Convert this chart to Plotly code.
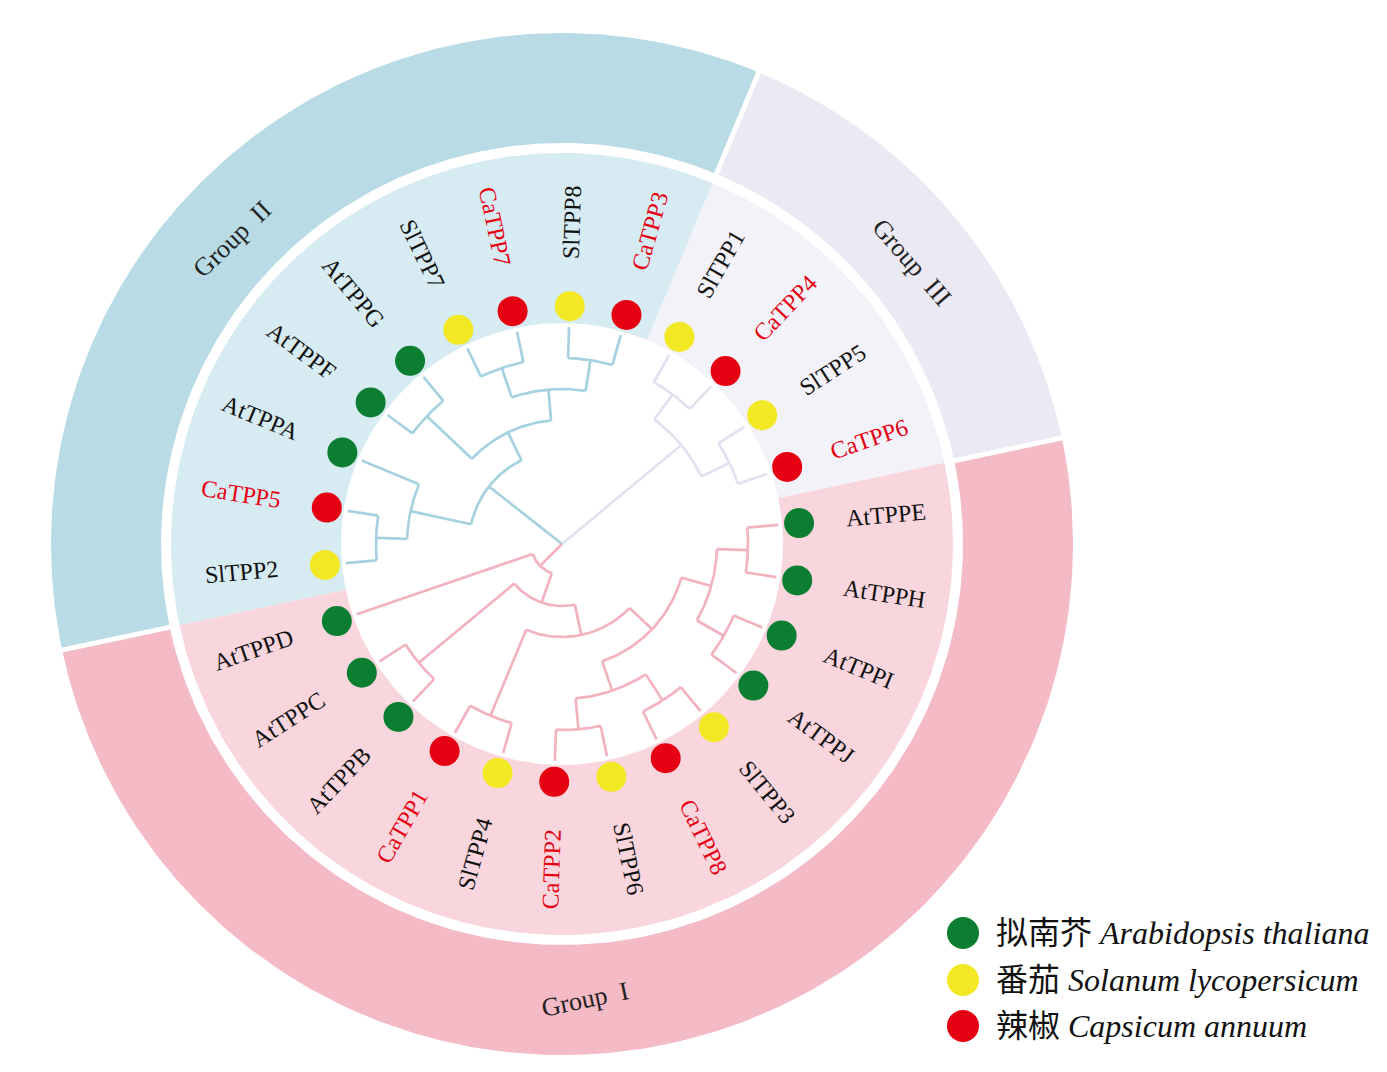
"""
Circular TPP gene tree (At / Sl / Ca) with group rings and species legend
"""
import numpy as np
import plotly.graph_objects as go

# ---- data ----------------------------------------------------------------
# topology, leaves in counter-clockwise order
TREE = ("(((CaTPP6,SlTPP5),(CaTPP4,SlTPP1)),"
        "((((CaTPP3,SlTPP8),(CaTPP7,SlTPP7)),(AtTPPG,AtTPPF)),(AtTPPA,(CaTPP5,SlTPP2))),"
        "(AtTPPD,((AtTPPC,AtTPPB),((CaTPP1,SlTPP4),"
        "(((CaTPP2,SlTPP6),(CaTPP8,SlTPP3)),((AtTPPJ,AtTPPI),(AtTPPH,AtTPPE)))))));")

GROUP_NAMES = ["Group III", "Group II", "Group I"]
GROUP_SIZES = [4, 9, 13]

SPECIES_PREFIX = ["At", "Sl", "Ca"]
SPECIES_CN = ["拟南芥", "番茄", "辣椒"]
SPECIES_LATIN = ["Arabidopsis thaliana", "Solanum lycopersicum", "Capsicum annuum"]

# ---- style ---------------------------------------------------------------
W, H = 1387, 1072
PAGE_PAD = 8                 # default body margin of the html page
CX, CY = 562, 544            # centre of the circle in screen pixels
FIRST_ANGLE = 18.9           # angle of first leaf (deg, ccw from east)
R_TIP = 217
R_DOT = 238
R_LAB = 285
R_BAND = (221, 391)
R_RING = (401, 511)

SPECIES_COL = ["#0b7e32", "#f2e823", "#e50012"]
BRANCH_COL = ["#e2e1f0", "#a6d2df", "#f2b3bf"]
BAND_COL = ["#f3f2f9", "#d7ebf2", "#f9d6dd"]
RING_COL = ["#ebe9f4", "#b8dbe6", "#f4bac6"]
GROUP_LABEL_POS = [(449, 38.8, 49), (449, 137.3, -44), (456, 272.9, -12)]

SERIF = "Liberation Serif, Times New Roman, serif"

# Times-like advance widths (em) for label width estimate
CW = {'A': .722, 't': .278, 'T': .611, 'P': .556, 'E': .611, 'F': .556, 'G': .722,
      'H': .722, 'I': .333, 'J': .389, 'B': .667, 'C': .667, 'D': .722, 'a': .444,
      'S': .556, 'l': .278}


def parse_newick(s):
    s = s.strip().rstrip(';')
    pos = 0

    def node():
        nonlocal pos
        if s[pos] == '(':
            pos += 1
            kids = [node()]
            while s[pos] == ',':
                pos += 1
                kids.append(node())
            pos += 1  # ')'
            return {'children': kids}
        start = pos
        while pos < len(s) and s[pos] not in ',()':
            pos += 1
        return {'name': s[start:pos], 'children': []}

    return node()


root = parse_newick(TREE)
leaves = []


def walk(n):
    if not n['children']:
        n['idx'] = len(leaves)
        leaves.append(n)
        n['height'] = 0
    else:
        for c in n['children']:
            walk(c)
        n['height'] = 1 + max(c['height'] for c in n['children'])
    return n


walk(root)
N = len(leaves)
STEP = 360.0 / N
MAX_H = root['height']

leaf_group = []
for g, k in enumerate(GROUP_SIZES):
    leaf_group += [g] * k


def layout(n):
    if not n['children']:
        n['ang'] = FIRST_ANGLE + n['idx'] * STEP
        n['grp'] = {leaf_group[n['idx']]}
    else:
        for c in n['children']:
            layout(c)
        n['ang'] = np.mean([c['ang'] for c in n['children']])
        n['grp'] = set().union(*[c['grp'] for c in n['children']])
    n['r'] = (MAX_H - n['height']) * R_TIP / MAX_H


layout(root)


def pol(r, deg):
    a = np.deg2rad(deg)
    return r * np.cos(a), r * np.sin(a)


# branch segments per group colour
seg = {g: ([], []) for g in range(len(GROUP_NAMES))}


def add_branches(n):
    if not n['children']:
        return
    for c in n['children']:
        g = min(c['grp']) if len(c['grp']) == 1 else 0
        xs, ys = seg[g]
        x0, y0 = pol(n['r'], c['ang'])
        x1, y1 = pol(c['r'], c['ang'])
        xs += [x0, x1, None]
        ys += [y0, y1, None]
        add_branches(c)
    if len(n['grp']) == 1 and n['r'] > 0:
        g = min(n['grp'])
        angs = [c['ang'] for c in n['children']]
        t = np.linspace(min(angs), max(angs), 60)
        ax, ay = pol(n['r'], t)
        seg[g][0].extend(list(ax) + [None])
        seg[g][1].extend(list(ay) + [None])


add_branches(root)

fig = go.Figure()


def annulus(r0, r1, a0, a1, color):
    t = np.linspace(a0, a1, 200)
    xo, yo = pol(r1, t)
    xi, yi = pol(r0, t[::-1])
    fig.add_trace(go.Scatter(x=np.r_[xo, xi, xo[0]], y=np.r_[yo, yi, yo[0]],
                             fill='toself', fillcolor=color, mode='lines',
                             line=dict(width=0), hoverinfo='skip', showlegend=False))


# group rings
start = 0
bounds = []
for g, k in enumerate(GROUP_SIZES):
    a0 = FIRST_ANGLE + (start - 0.5) * STEP
    a1 = FIRST_ANGLE + (start + k - 0.5) * STEP
    bounds.append(a0)
    annulus(R_BAND[0], R_BAND[1], a0, a1, BAND_COL[g])
    annulus(R_RING[0], R_RING[1], a0, a1, RING_COL[g])
    start += k

# white separators in the outer ring
for a in bounds:
    x0, y0 = pol(R_RING[0] - 4, a)
    x1, y1 = pol(R_RING[1] + 4, a)
    fig.add_trace(go.Scatter(x=[x0, x1], y=[y0, y1], mode='lines',
                             line=dict(color='white', width=5),
                             hoverinfo='skip', showlegend=False))

# branches
for g in seg:
    fig.add_trace(go.Scatter(x=seg[g][0], y=seg[g][1], mode='lines',
                             line=dict(color=BRANCH_COL[g], width=2.7),
                             hoverinfo='skip', showlegend=False))

# tip dots
names = [lf['name'] for lf in leaves]
sp = [SPECIES_PREFIX.index(nm[:2]) for nm in names]
dx, dy = pol(R_DOT, np.array([lf['ang'] for lf in leaves]))
fig.add_trace(go.Scatter(x=dx, y=dy, mode='markers',
                         marker=dict(size=30, color=[SPECIES_COL[s] for s in sp],
                                     line=dict(width=0)),
                         text=names, hoverinfo='text', showlegend=False))

# tip labels
annotations = []
for lf, s in zip(leaves, sp):
    a = lf['ang'] % 360
    rot = a - 180 if 90 < a < 270 else a
    w = sum(CW.get(ch, 0.5) for ch in lf['name']) * 24
    x, y = pol(R_LAB + w / 2, lf['ang'])
    annotations.append(dict(x=x, y=y, text=lf['name'], showarrow=False,
                            textangle=-rot, xanchor='center', yanchor='middle',
                            font=dict(family=SERIF, size=24,
                                      color='#e60012' if s == 2 else '#111111')))

# group labels
for (r, a, ta), gname in zip(GROUP_LABEL_POS, GROUP_NAMES):
    x, y = pol(r, a)
    annotations.append(dict(x=x, y=y, text=gname.replace(' ', '\u00a0\u00a0'),
                            showarrow=False, textangle=ta,
                            xanchor='center', yanchor='middle',
                            font=dict(family=SERIF, size=26, color='#222222')))

# legend (drawn by hand)
leg_x = 963 - CX
leg_y = [CY - 933, CY - 980, CY - 1026]
fig.add_trace(go.Scatter(x=[leg_x] * 3, y=leg_y, mode='markers',
                         marker=dict(size=32, color=SPECIES_COL, line=dict(width=0)),
                         hoverinfo='skip', showlegend=False))
for yy, cn, la in zip(leg_y, SPECIES_CN, SPECIES_LATIN):
    annotations.append(dict(x=994 - CX, y=yy, text=f"{cn} <i>{la}</i>",
                            showarrow=False, xanchor='left', yanchor='middle',
                            font=dict(family="Liberation Serif, Noto Sans CJK SC",
                                      size=32, color='#111111')))

# plot area sits PAGE_PAD px inside the window
pw, ph = W - 2 * PAGE_PAD, H - 2 * PAGE_PAD
cx, cy = CX - PAGE_PAD, CY - PAGE_PAD
fig.update_layout(
    width=pw, height=ph,
    margin=dict(l=0, r=0, t=0, b=0),
    paper_bgcolor='white', plot_bgcolor='white',
    xaxis=dict(range=[-cx, pw - cx], visible=False, fixedrange=True),
    yaxis=dict(range=[cy - ph, cy], visible=False, fixedrange=True),
    annotations=annotations,
    showlegend=False,
)

fig.write_html("out.html")
